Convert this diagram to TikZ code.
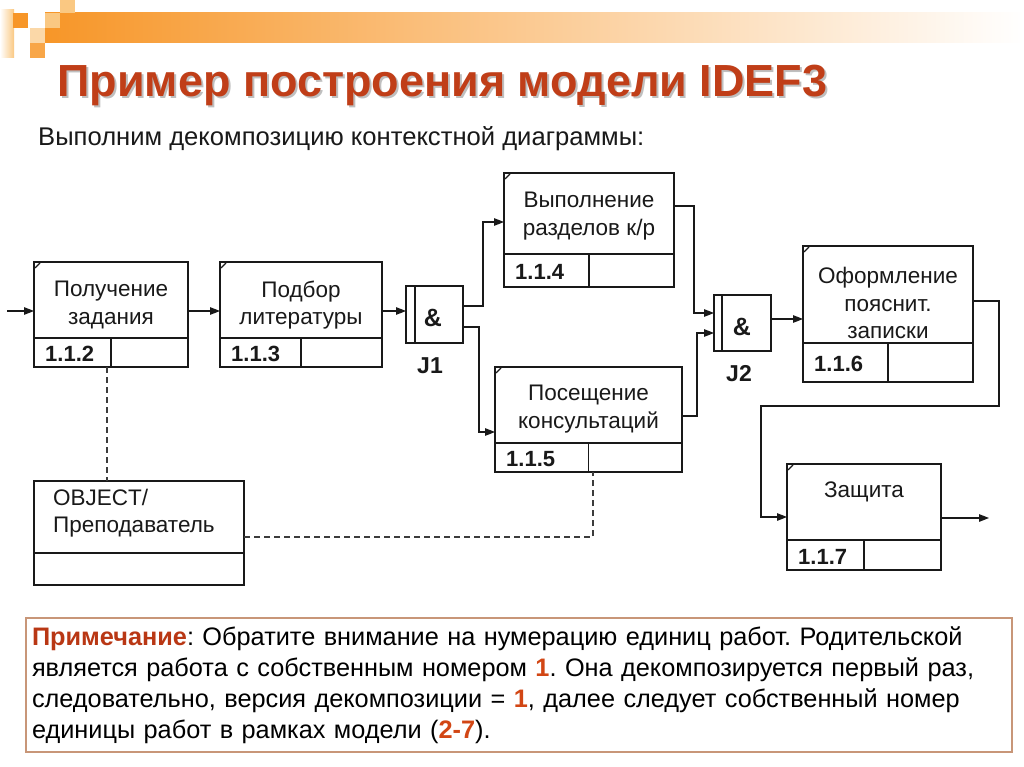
\documentclass[tikz,border=0pt]{standalone}
\usepackage{fontspec}
\setmainfont{Liberation Sans}
\usetikzlibrary{arrows.meta}
\frenchspacing
\definecolor{titlecol}{RGB}{192,62,24}
\definecolor{notecol}{RGB}{185,55,20}
\definecolor{numcol}{RGB}{210,70,20}
\definecolor{barorange}{RGB}{247,150,40}
\definecolor{barmid}{RGB}{250,205,165}
\definecolor{lightor}{RGB}{250,200,130}
\definecolor{notebrd}{RGB}{200,150,120}
\definecolor{ink}{RGB}{25,25,25}
\newcommand\uow[9]{%
  \node[uowbox, minimum width={(#4-#2)*1pt}, minimum height={(#5-#3)*1pt}] (#1) at ({(#2+#4)/2},{(#3+#5)/2}) {};
  \draw[boxline] (#2,#6) -- (#4,#6);
  \draw[boxline] ({(#2+#4)/2},#6) -- ({(#2+#4)/2},#5);
  \draw[boxline] ({#2+1},{#3+6}) -- ({#2+6},{#3+1});
  \node[boxtext] at ({(#2+#4)/2},#7) {#8};
  \node[numtext, anchor=base west] at ({#2+11},{min(#5-3,(#6+#5)/2+9)}) {#9};
}
\begin{document}
\begin{tikzpicture}[x=1pt,y=-1pt,
  boxline/.style={draw=ink,line width=1.1pt},
  uowbox/.style={boxline,rectangle,inner sep=0pt,outer sep=0pt},
  boxtext/.style={font=\fontsize{22.5}{27.5}\selectfont,align=center,text=ink,inner sep=0pt},
  numtext/.style={font=\fontsize{22}{26}\selectfont\bfseries,inner sep=0pt,text=ink},
  jlabel/.style={font=\fontsize{23}{27}\selectfont\bfseries,inner sep=0pt,text=ink},
  arr/.style={draw=ink,line width=1.3pt,-{Triangle[length=10pt,width=7.5pt]}},
  link/.style={draw=ink!85,line width=1.1pt,dash pattern=on 6pt off 4pt},
  notebox/.style={draw=notebrd,line width=1.2pt,minimum width=986pt,minimum height=134pt,
    text width=974pt,inner xsep=6pt,inner ysep=4pt,align=left,
    font=\fontsize{25.3}{31}\selectfont},
]
\useasboundingbox (0,0) rectangle (1024,767);
\fill[white] (0,0) rectangle (1024,767);
% top decoration
\shade[left color=white, right color=lightor] (0,10) rectangle (14,58);
\shade[left color=barorange, middle color=barmid, right color=white] (45,13) rectangle (1024,43);
\fill[barorange] (13,13) rectangle (28,28);
\fill[lightor] (60,0) rectangle (75,13);
\fill[lightor] (45,13) rectangle (60,28);
\fill[lightor!70] (30,28) rectangle (45,43);
\fill[barorange!85] (30,43) rectangle (45,58);
% title
\node[anchor=base west, inner sep=0pt, text=black!25, font=\fontsize{45}{50}\selectfont\bfseries] at (59,99) {Пример построения модели IDEF3};
\node[anchor=base west, inner sep=0pt, text=titlecol, font=\fontsize{45}{50}\selectfont\bfseries] (title) at (57,97) {Пример построения модели IDEF3};
\node[anchor=base west, inner sep=0pt, text=ink, font=\fontsize{25.6}{29}\selectfont] (sub) at (38,146) {Выполним декомпозицию контекстной диаграммы:};
% units of work
\uow{b112}{34}{262}{188}{367}{338}{305}{Получение\\задания}{1.1.2}
\uow{b113}{220}{262}{382}{367}{338}{305}{Подбор\\литературы}{1.1.3}
\uow{b114}{504}{173}{674}{287}{254}{216}{Выполнение\\разделов к/р}{1.1.4}
\uow{b115}{495}{367}{682}{472}{443}{409}{Посещение\\консультаций}{1.1.5}
\uow{b116}{803}{246}{973}{382}{343}{303}{Оформление\\пояснит.\\записки}{1.1.6}
\uow{b117}{787}{464}{941}{570}{540}{492}{Защита}{1.1.7}
% junctions
\node[uowbox, minimum width=57pt, minimum height=57pt] (j1) at (434.5,314.5) {};
\draw[boxline] (415,286) -- (415,343);
\node[jlabel, font=\fontsize{25}{29}\selectfont\bfseries] at (433,318) {\&};
\node[jlabel] (j1l) at (430,366) {J1};
\node[uowbox, minimum width=57pt, minimum height=56pt] (j2) at (742.5,323) {};
\draw[boxline] (722,295) -- (722,351);
\node[jlabel, font=\fontsize{25}{29}\selectfont\bfseries] at (742,327) {\&};
\node[jlabel] (j2l) at (739,374) {J2};
% object
\node[uowbox, minimum width=210pt, minimum height=104pt] (obj) at (139,533) {};
\draw[boxline] (34,553) -- (244,553);
\node[boxtext, align=left, anchor=west] at (53,513) {OBJECT/\\Преподаватель};
% connectors
\coordinate (in) at (7,311);
\draw[arr] (in) -- (in -| b112.west);
\draw[arr] ([yshift=3.5pt]b112.east) -- ([yshift=3.5pt]b113.west);
\draw[arr] ([yshift=3.5pt]b113.east) -- ([yshift=3.5pt]j1.west);
\draw[arr] ([yshift=8.5pt]j1.east) -- ++(20,0) |- ([yshift=8pt]b114.west);
\draw[arr] ([yshift=-12.5pt]j1.east) -- ++(16,0) |- ([yshift=-12.5pt]b115.west);
\draw[arr] ([yshift=24pt]b114.east) -- ++(20,0) |- ([yshift=10pt]j2.west);
\draw[arr] ([yshift=3.5pt]b115.east) -- ++(15,0) |- ([yshift=-10pt]j2.west);
\coordinate (j2o) at ([yshift=4pt]j2.east);
\draw[arr] (j2o) -- (j2o -| b116.west);
\coordinate (bend) at (761,406);
\draw[arr] ([yshift=13pt]b116.east) -- ++(26,0) |- (bend) |- (b117.west);
\coordinate (out) at (989,518);
\draw[arr] (b117.east |- out) -- (out);
\coordinate (d1) at ([xshift=-4pt]b112.south);
\draw[link] (d1) -- (d1 |- obj.north);
\coordinate (d2) at ([yshift=-4pt]obj.east);
\coordinate (d3) at ([xshift=4.5pt]b115.south);
\draw[link] (d2) -| (d3);
% note
\node[notebox] (note) at (519,685) {\textcolor{notecol}{\textbf{Примечание}}: Обратите внимание на нумерацию единиц работ. Родительской\\
является работа с собственным номером \textcolor{numcol}{\textbf{1}}. Она декомпозируется первый раз,\\
следовательно, версия декомпозиции = \textcolor{numcol}{\textbf{1}}, далее следует собственный номер\\
единицы работ в рамках модели (\textcolor{numcol}{\textbf{2-7}}).};
\end{tikzpicture}
\end{document}
